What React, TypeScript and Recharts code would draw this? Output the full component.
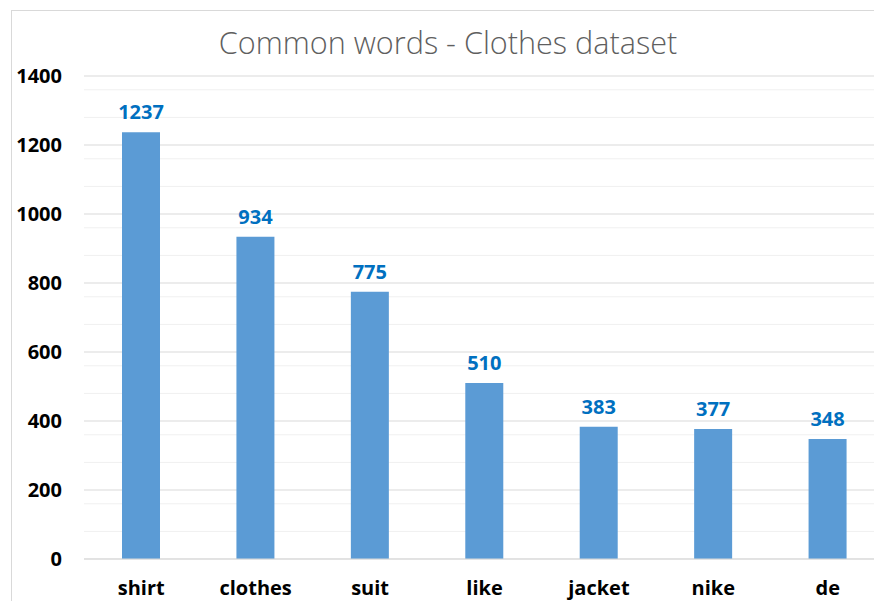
import React from "react";
import { BarChart, Bar, XAxis, YAxis, CartesianGrid, LabelList } from "recharts";

const words = ["shirt", "clothes", "suit", "like", "jacket", "nike", "de"];
const counts = [1237, 934, 775, 510, 383, 377, 348];
const yTicks = [0, 200, 400, 600, 800, 1000, 1200, 1400];
const minorLines = [
  40, 80, 120, 160, 240, 280, 320, 360, 440, 480, 520, 560, 640, 680, 720, 760,
  840, 880, 920, 960, 1040, 1080, 1120, 1160, 1240, 1280, 1320, 1360,
];

const data = words.map((word, i) => ({ word, count: counts[i] }));

const FONT = "'Open Sans', Lato, sans-serif";

export default function App() {
  return (
    <div
      style={{
        position: "absolute",
        left: 0,
        top: 0,
        width: 874,
        height: 601,
        overflow: "hidden",
        background: "#ffffff",
        fontFamily: FONT,
      }}
    >
      <div
        style={{
          position: "absolute",
          left: 11,
          top: 10,
          width: 960,
          height: 700,
          border: "1px solid #d9d9d9",
          boxSizing: "border-box",
        }}
      />
      <div
        style={{
          position: "absolute",
          left: 0,
          top: 22,
          width: 896,
          textAlign: "center",
          fontSize: 30.6,
          fontWeight: 300,
          color: "#5f5f5f",
          lineHeight: "40px",
          whiteSpace: "nowrap",
        }}
      >
        Common words - Clothes dataset
      </div>
      <div style={{ position: "absolute", left: 0, top: 0 }}>
        <BarChart
          width={885}
          height={601}
          data={data}
          margin={{ top: 76, right: 0, bottom: 0, left: 0 }}
          barSize={38}
        >
          <CartesianGrid
            vertical={false}
            horizontalValues={minorLines}
            stroke="#f0f0f0"
            strokeWidth={1}
          />
          <CartesianGrid
            vertical={false}
            horizontalValues={yTicks}
            stroke="#d9d9d9"
            strokeWidth={1}
          />
          <XAxis
            dataKey="word"
            height={42}
            tickLine={false}
            tickSize={0}
            tickMargin={22}
            axisLine={{ stroke: "#d9d9d9" }}
            tick={{ fill: "#000000", fontSize: 20, fontWeight: 700, fontFamily: FONT }}
            interval={0}
          />
          <YAxis
            width={84}
            domain={[0, 1400]}
            ticks={yTicks}
            tickLine={false}
            axisLine={false}
            tickSize={0}
            tickMargin={22}
            tick={{ fill: "#000000", fontSize: 20, fontWeight: 700, fontFamily: FONT }}
          />
          <Bar dataKey="count" fill="#5b9bd5" isAnimationActive={false}>
            <LabelList
              dataKey="count"
              position="top"
              offset={13}
              fill="#0070c0"
              style={{ fontSize: 20, fontWeight: 700, fontFamily: FONT }}
            />
          </Bar>
        </BarChart>
      </div>
    </div>
  );
}
